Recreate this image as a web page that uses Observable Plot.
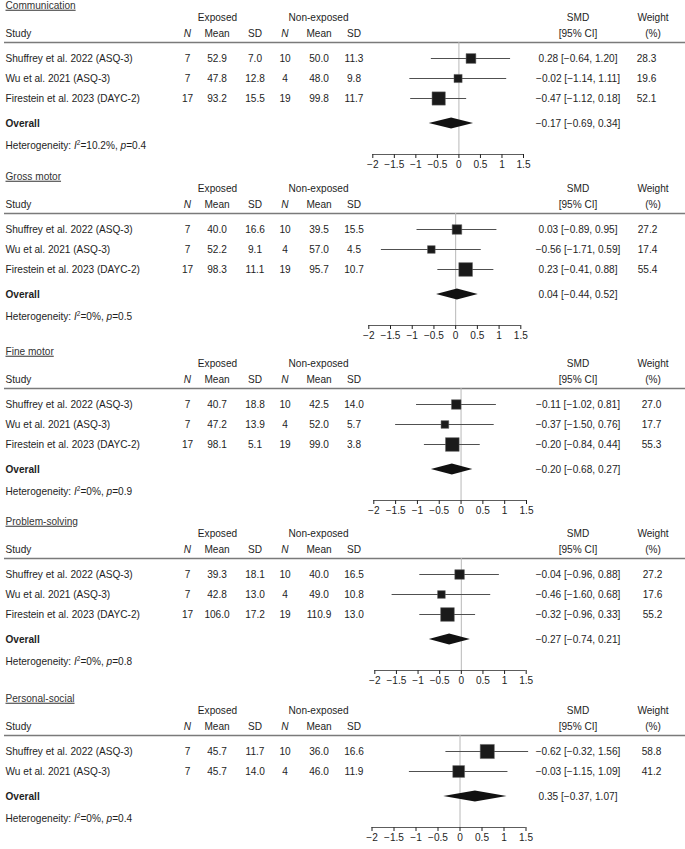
<!DOCTYPE html>
<html><head><meta charset="utf-8">
<script src="https://cdn.jsdelivr.net/npm/d3@7"></script>
<script src="https://cdn.jsdelivr.net/npm/@observablehq/plot@0.6"></script>
<style>
body{margin:0;background:#fff}
#chart svg{display:block}
</style>
</head><body><div id="chart"></div>
<script>
// ---------- DATA ----------
const domainNames = ["Communication","Gross motor","Fine motor","Problem-solving","Personal-social"];
const threeStudies = ["Shuffrey et al. 2022 (ASQ-3)","Wu et al. 2021 (ASQ-3)","Firestein et al. 2023 (DAYC-2)"];
const studyNames = [threeStudies, threeStudies, threeStudies, threeStudies, threeStudies.slice(0,2)];
const nExposed = [[7,7,17],[7,7,17],[7,7,17],[7,7,17],[7,7]];
const meanExposed = [[52.9,47.8,93.2],[40.0,52.2,98.3],[40.7,47.2,98.1],[39.3,42.8,106.0],[45.7,45.7]];
const sdExposed = [[7.0,12.8,15.5],[16.6,9.1,11.1],[18.8,13.9,5.1],[18.1,13.0,17.2],[11.7,14.0]];
const nNonExposed = [[10,4,19],[10,4,19],[10,4,19],[10,4,19],[10,4]];
const meanNonExposed = [[50.0,48.0,99.8],[39.5,57.0,95.7],[42.5,52.0,99.0],[40.0,49.0,110.9],[36.0,46.0]];
const sdNonExposed = [[11.3,9.8,11.7],[15.5,4.5,10.7],[14.0,5.7,3.8],[16.5,10.8,13.0],[16.6,11.9]];
// plotted SMD (square position)
const smd = [[0.28,-0.02,-0.47],[0.03,-0.56,0.23],[-0.11,-0.37,-0.20],[-0.04,-0.46,-0.32],[0.62,-0.03]];
// SMD as printed in the column (one sign differs in the source)
const smdPrinted = [[0.28,-0.02,-0.47],[0.03,-0.56,0.23],[-0.11,-0.37,-0.20],[-0.04,-0.46,-0.32],[-0.62,-0.03]];
const ciLow = [[-0.64,-1.14,-1.12],[-0.89,-1.71,-0.41],[-1.02,-1.50,-0.84],[-0.96,-1.60,-0.96],[-0.32,-1.15]];
const ciHigh = [[1.20,1.11,0.18],[0.95,0.59,0.88],[0.81,0.76,0.44],[0.88,0.68,0.33],[1.56,1.09]];
const weights = [[28.3,19.6,52.1],[27.2,17.4,55.4],[27.0,17.7,55.3],[27.2,17.6,55.2],[58.8,41.2]];
const overallSMD = [-0.17,0.04,-0.20,-0.27,0.35];
const overallLow = [-0.69,-0.44,-0.68,-0.74,-0.37];
const overallHigh = [0.34,0.52,0.27,0.21,1.07];
const hetI2 = ["10.2","0","0","0","0"];
const hetP = ["0.4","0.5","0.9","0.8","0.4"];
const xTicks = [-2,-1.5,-1,-0.5,0,0.5,1,1.5];

// ---------- LAYOUT ----------
const FS = 10.1;
const U = 20;          // px per table row
const TOP = -2.9;      // y value at top of each panel
const ROW = {title:-2.65, group:-2.025, header:-1.25, rule:-0.8};
const panelLayout = [
  {height:171, x0:372.3, x1:523.0, wx:646},
  {height:175, x0:368.3, x1:520.3, wx:647},
  {height:170, x0:373.3, x1:526.0, wx:651},
  {height:177, x0:374.3, x1:525.7, wx:652},
  {height:156, x0:371.5, x1:525.5, wx:651}
];
const COL = {study:5, nE:187, meanE:216.5, sdE:254.5, nN:284.5, meanN:318.5, sdN:353.5, ci:577.5, wHead:652.5};
const INK = "#1e1e1e";
const FONT = "'Liberation Sans', Arial, Helvetica, sans-serif";

const minus = v => (v < 0 ? "\u2212" : "") + Math.abs(v).toFixed(2);
const ciLabel = (s, l, h) => `${minus(s)} [${minus(l)}, ${minus(h)}]`;

function T(data, text, y, x, opts = {}) {
  const {anchor = "middle", ...rest} = opts;
  return Plot.text(data, {text, y, frameAnchor: "left", dx: x, textAnchor: anchor,
    fill: INK, fontSize: FS, ...rest});
}
const lbl = (s, y, x, opts) => T([s], d => d, () => y, x, opts);

const chart = document.getElementById("chart");

domainNames.forEach((name, i) => {
  const L = panelLayout[i];
  const n = studyNames[i].length;
  const rows = d3.range(n).map(j => ({
    j, study: studyNames[i][j],
    nE: nExposed[i][j], meanE: meanExposed[i][j], sdE: sdExposed[i][j],
    nN: nNonExposed[i][j], meanN: meanNonExposed[i][j], sdN: sdNonExposed[i][j],
    smd: smd[i][j], lo: ciLow[i][j], hi: ciHigh[i][j], w: weights[i][j],
    ci: ciLabel(smdPrinted[i][j], ciLow[i][j], ciHigh[i][j])
  }));
  const ov = n - 1 + 1.25;
  const het = ov + 1.1;
  const ax = ov + 1.55;
  const axisPx = (ax - TOP) * U;
  const diamond = [
    {x: overallLow[i], y1: ov, y2: ov},
    {x: overallSMD[i], y1: ov - 0.275, y2: ov + 0.275},
    {x: overallHigh[i], y1: ov, y2: ov}
  ];

  const svg = Plot.plot({
    width: 685, height: L.height,
    marginLeft: 0, marginRight: 0, marginTop: 0, marginBottom: L.height - axisPx,
    style: {fontFamily: FONT, fontSize: FS + "px", color: INK, background: "#fff", overflow: "visible"},
    x: {domain: [-2, 1.5], range: [L.x0, L.x1], ticks: xTicks, tickSize: 4, tickPadding: 2.5,
        tickFormat: d => String(d).replace("-", "\u2212"), label: null},
    y: {domain: [TOP, ax], reverse: true, axis: null},
    r: {type: "sqrt", domain: [0, 100], range: [0, 10.38]},
    marks: [
      Plot.ruleY([ROW.rule], {y: d => d, insetLeft: 4, stroke: "#7a7a7a", strokeWidth: 1.6}),
      Plot.ruleX([0], {x: d => d, y1: () => ROW.rule, y2: () => ax, stroke: "#b8b8b8", strokeWidth: 1}),
      Plot.ruleY([ax], {y: d => d, x1: () => -2, x2: () => 1.5, stroke: "#333", strokeWidth: 0.8}),
      Plot.ruleY(rows, {y: "j", x1: "lo", x2: "hi", stroke: "#505050", strokeWidth: 1}),
      Plot.dot(rows, {x: "smd", y: "j", r: "w", symbol: "square", fill: "#1a1a1a", stroke: "#666", strokeWidth: 0.5}),
      Plot.areaY(diamond, {x: "x", y1: "y1", y2: "y2", fill: "#111", curve: "linear"}),
      // headers
      lbl(name, ROW.title, COL.study, {anchor: "start", fill: "#333"}),
      lbl("Exposed", ROW.group, 217),
      lbl("Non-exposed", ROW.group, 318),
      lbl("SMD", ROW.group, COL.ci),
      lbl("[95% CI]", ROW.header, COL.ci),
      lbl("Weight", ROW.group, COL.wHead),
      lbl("(%)", ROW.header, COL.wHead),
      lbl("Study", ROW.header, COL.study, {anchor: "start"}),
      lbl("N", ROW.header, COL.nE, {fontStyle: "italic"}),
      lbl("Mean", ROW.header, COL.meanE),
      lbl("SD", ROW.header, COL.sdE),
      lbl("N", ROW.header, COL.nN, {fontStyle: "italic"}),
      lbl("Mean", ROW.header, COL.meanN),
      lbl("SD", ROW.header, COL.sdN),
      // rows
      T(rows, "study", "j", COL.study, {anchor: "start"}),
      T(rows, d => String(d.nE), "j", COL.nE),
      T(rows, d => d.meanE.toFixed(1), "j", COL.meanE),
      T(rows, d => d.sdE.toFixed(1), "j", COL.sdE),
      T(rows, d => String(d.nN), "j", COL.nN),
      T(rows, d => d.meanN.toFixed(1), "j", COL.meanN),
      T(rows, d => d.sdN.toFixed(1), "j", COL.sdN),
      T(rows, "ci", "j", COL.ci),
      T(rows, d => d.w.toFixed(1), "j", L.wx),
      // overall
      lbl("Overall", ov, COL.study, {anchor: "start", fontWeight: "bold"}),
      lbl(ciLabel(overallSMD[i], overallLow[i], overallHigh[i]), ov, COL.ci),
      lbl(`Heterogeneity: I2=${hetI2[i]}%, p=${hetP[i]}`, het, COL.study, {anchor: "start"})
    ]
  });

  // typographic touches: underlined titles, italic I with superscript 2, italic p
  const NS = "http://www.w3.org/2000/svg";
  svg.querySelectorAll("text").forEach(t => {
    const s = t.textContent;
    if (s === name) t.setAttribute("text-decoration", "underline");
    if (s.startsWith("Heterogeneity")) {
      t.textContent = "";
      const add = (txt, attrs = {}) => {
        const sp = document.createElementNS(NS, "tspan");
        for (const k in attrs) sp.setAttribute(k, attrs[k]);
        sp.textContent = txt; t.appendChild(sp);
      };
      add("Heterogeneity: ");
      add("I", {"font-style": "italic"});
      add("2", {"font-size": "6.5px", dy: "-4"});
      add(`=${hetI2[i]}%, `, {dy: "4"});
      add("p", {"font-style": "italic"});
      add(`=${hetP[i]}`);
    }
  });
  chart.appendChild(svg);
});
</script></body></html>
